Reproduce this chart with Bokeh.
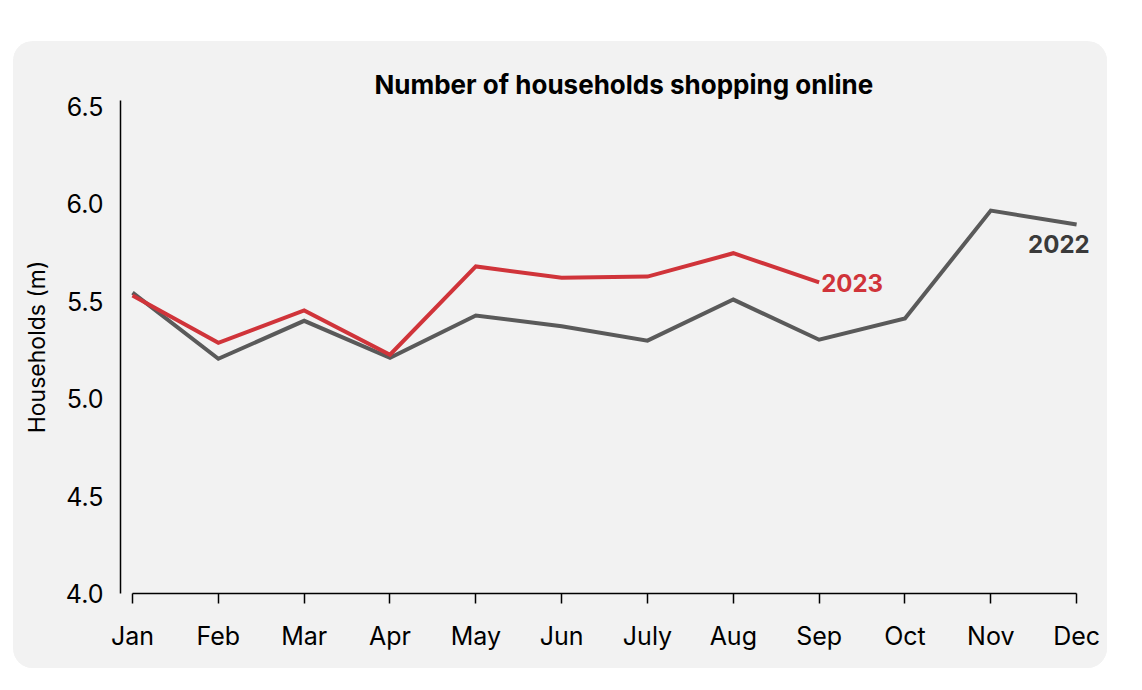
from bokeh.plotting import figure
from bokeh.models import FixedTicker, NumeralTickFormatter
from bokeh.core.properties import value
from bokeh.embed import file_html
from bokeh.resources import INLINE

months = ["Jan", "Feb", "Mar", "Apr", "May", "Jun", "July", "Aug", "Sep", "Oct", "Nov", "Dec"]
households_2022 = [5.545, 5.205, 5.40, 5.21, 5.427, 5.372, 5.298, 5.509, 5.303, 5.412, 5.966, 5.894]
households_2023 = [5.53, 5.287, 5.453, 5.226, 5.679, 5.621, 5.627, 5.747, 5.597]
y_ticks = [4.0, 4.5, 5.0, 5.5, 6.0, 6.5]

RED = "#d0343a"
GREY = "#5a5a5a"
BG = "#f2f2f2"
FONT = "Inter"

x22 = list(range(len(households_2022)))
x23 = list(range(len(households_2023)))

p = figure(
    width=1094, height=627,
    x_range=(-0.14, 11.22), y_range=(4.0, 6.531),
    output_backend="svg", toolbar_location=None,
    min_border_left=107, min_border_right=12,
    min_border_top=59, min_border_bottom=75,
)
p.margin = (41, 0, 0, 13)
p.styles = {"border-radius": "20px", "overflow": "hidden", "background-color": BG}
p.background_fill_color = BG
p.border_fill_color = BG
p.outline_line_color = None
p.grid.visible = False

p.title.text = "Number of households shopping online"
p.title.align = "left"
p.title.offset = 254
p.title.standoff = 1
p.title.text_font = FONT
p.title.text_font_size = "26px"
p.title.text_font_style = "bold"
p.title.text_color = "#000000"

# x axis
xa = p.xaxis[0]
xa.ticker = FixedTicker(ticks=x22)
xa.major_label_overrides = {i: m for i, m in enumerate(months)}
xa.bounds = (0, len(months) - 1)
xa.axis_line_color = "#000000"
xa.axis_line_width = 1.5
xa.major_tick_line_color = "#000000"
xa.major_tick_line_width = 1.5
xa.major_tick_in = 0
xa.major_tick_out = 10
xa.minor_tick_line_color = None
xa.major_label_standoff = 17
xa.major_label_text_font = FONT
xa.major_label_text_font_size = "25px"
xa.major_label_text_color = "#000000"

# y axis
ya = p.yaxis[0]
ya.ticker = FixedTicker(ticks=y_ticks)
ya.formatter = NumeralTickFormatter(format="0.0")
ya.axis_line_color = "#000000"
ya.axis_line_width = 1.5
ya.major_tick_line_color = None
ya.major_tick_in = 0
ya.major_tick_out = 0
ya.minor_tick_line_color = None
ya.major_label_standoff = 17
ya.major_label_text_font = FONT
ya.major_label_text_font_size = "25px"
ya.major_label_text_color = "#000000"
ya.axis_label = "Households (m)"
ya.axis_label_text_font = FONT
ya.axis_label_text_font_size = "23px"
ya.axis_label_text_font_style = "normal"
ya.axis_label_text_color = "#000000"
ya.axis_label_standoff = 12

p.line(x22, households_2022, line_color=GREY, line_width=4, line_join="miter")
p.line(x23, households_2023, line_color=RED, line_width=4, line_join="miter")

p.text(x=[x23[-1]], y=[households_2023[-1]], text=["2023"],
       text_font=value(FONT), text_font_size="24px", text_font_style="bold",
       text_color=RED, text_align="left", text_baseline="middle", x_offset=2, y_offset=1)
p.text(x=[x22[-1]], y=[households_2022[-1]], text=["2022"],
       text_font=value(FONT), text_font_size="24px", text_font_style="bold",
       text_color="#3a3a3a", text_align="right", text_baseline="middle", x_offset=13, y_offset=19)

open("out.html", "w").write(file_html(p, INLINE))
